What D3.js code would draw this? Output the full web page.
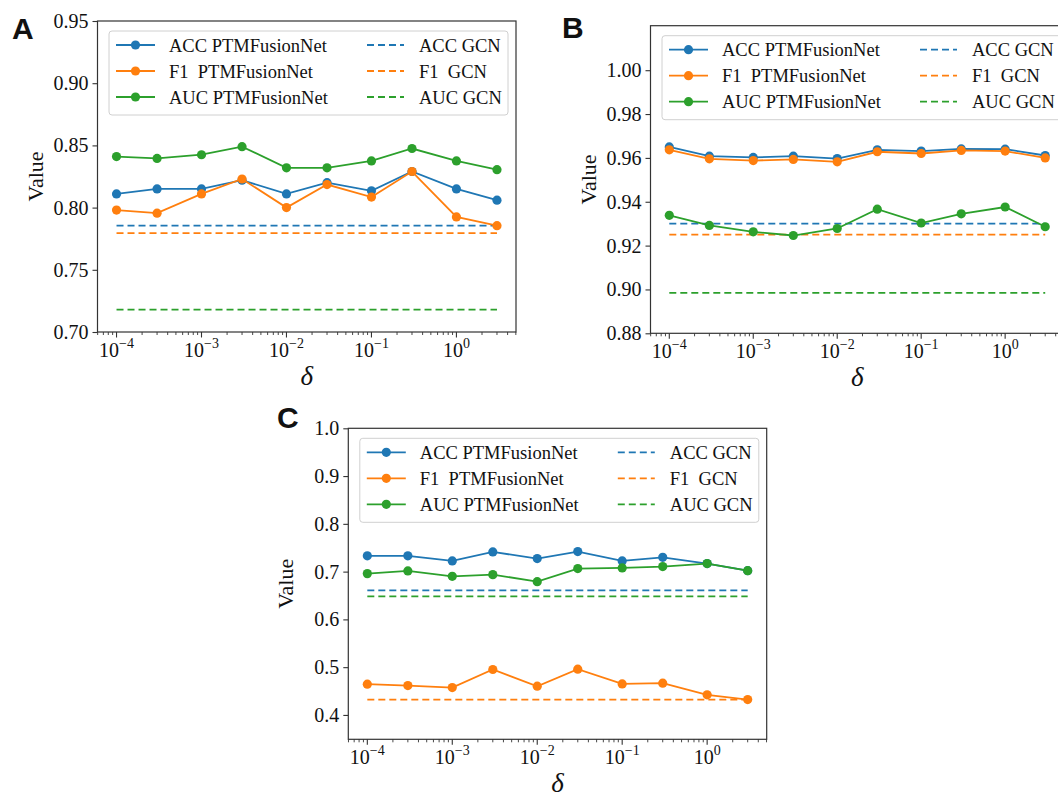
<!DOCTYPE html>
<html>
<head>
<meta charset="utf-8">
<script src="https://cdn.jsdelivr.net/npm/d3@7"></script>
<style>
  html, body { margin: 0; padding: 0; background: #fff; }
  svg { display: block; }
  text { font-family: "Liberation Serif", "DejaVu Serif", serif; fill: #111; }
  .letra { font-family: "Liberation Sans", Arial, sans-serif; font-weight: bold; }
</style>
</head>
<body>
<div id="grafico"></div>
<script>
// valores de delta (eje x, log)
const deltas = [1e-4, 3e-4, 1e-3, 3e-3, 1e-2, 3e-2, 1e-1, 3e-1, 1, 3];
const metricas = ['ACC', 'F1', 'AUC'];
const colores = ['#1f77b4', '#ff7f0e', '#2ca02c'];
const decadas = [1e-4, 1e-3, 1e-2, 1e-1, 1];
const exponentes = ['\u22124', '\u22123', '\u22122', '\u22121', '0'];

// panel A
const accA = [0.811, 0.815, 0.815, 0.822, 0.811, 0.820, 0.8135, 0.829, 0.815, 0.806];
const f1A = [0.798, 0.7955, 0.811, 0.823, 0.800, 0.8185, 0.8085, 0.829, 0.7925, 0.7855];
const aucA = [0.841, 0.8395, 0.8425, 0.849, 0.832, 0.832, 0.8375, 0.8475, 0.8375, 0.8305];
const gcnA = [0.7855, 0.7795, 0.718];
const ticksA = [0.70, 0.75, 0.80, 0.85, 0.90, 0.95];

// panel B
const accB = [0.965, 0.9608, 0.9602, 0.9608, 0.9597, 0.9637, 0.9631, 0.9641, 0.964, 0.9611];
const f1B = [0.9637, 0.9596, 0.9588, 0.9593, 0.9582, 0.9628, 0.962, 0.9634, 0.9631, 0.960];
const aucB = [0.9338, 0.9292, 0.9263, 0.9246, 0.9278, 0.9366, 0.9303, 0.9345, 0.9376, 0.9286];
const gcnB = [0.930, 0.925, 0.8984];
const ticksB = [0.88, 0.90, 0.92, 0.94, 0.96, 0.98, 1.00];

// panel C
const accC = [0.733, 0.733, 0.7224, 0.7413, 0.7273, 0.742, 0.7224, 0.730, 0.7168, 0.702];
const f1C = [0.4643, 0.4615, 0.4573, 0.4951, 0.4601, 0.4958, 0.465, 0.4664, 0.442, 0.4322];
const aucC = [0.6958, 0.7014, 0.6902, 0.6937, 0.679, 0.7063, 0.7077, 0.7105, 0.7168, 0.702];
const gcnC = [0.6608, 0.4322, 0.6483];
const ticksC = [0.4, 0.5, 0.6, 0.7, 0.8, 0.9, 1.0];

const svg = d3.select('#grafico')
  .append('svg')
  .attr('width', 1058)
  .attr('height', 798);

const paneles = [
  { letra: 'A', series: [accA, f1A, aucA], gcn: gcnA, ticks: ticksA, fmt: '.2f', dominio: [0.70, 0.95],
    x0: 97.5, x1: 516, y0: 21, y1: 332, lx: 12, ly: 39 },
  { letra: 'B', series: [accB, f1B, aucB], gcn: gcnB, ticks: ticksB, fmt: '.2f', dominio: [0.88, 1.0203],
    x0: 650.5, x1: 1064, y0: 25.7, y1: 333.3, lx: 562, ly: 38 },
  { letra: 'C', series: [accC, f1C, aucC], gcn: gcnC, ticks: ticksC, fmt: '.1f', dominio: [0.349, 1.0],
    x0: 348.3, x1: 766.7, y0: 428.3, y1: 739.3, lx: 277, ly: 428 }
];

paneles.forEach(dibujarPanel);

function dibujarPanel(p) {
  const g = svg.append('g');
  const margen = Math.log10(3 / 1e-4) * 0.05;
  const x = d3.scaleLog()
    .domain([1e-4 / Math.pow(10, margen), 3 * Math.pow(10, margen)])
    .range([p.x0, p.x1]);
  const y = d3.scaleLinear().domain(p.dominio).range([p.y1, p.y0]);

  // lineas GCN (discontinuas)
  p.gcn.forEach((v, i) => {
    g.append('line')
      .attr('x1', x(deltas[0])).attr('x2', x(deltas[deltas.length - 1]))
      .attr('y1', y(v)).attr('y2', y(v))
      .attr('stroke', colores[i])
      .attr('stroke-width', 1.8)
      .attr('stroke-dasharray', '7,4');
  });

  // lineas PTMFusionNet
  const linea = d3.line().x((d, i) => x(deltas[i])).y(d => y(d));
  p.series.forEach((s, i) => {
    g.append('path')
      .attr('d', linea(s))
      .attr('fill', 'none')
      .attr('stroke', colores[i])
      .attr('stroke-width', 1.8);
    g.append('g')
      .selectAll('circle')
      .data(s)
      .join('circle')
      .attr('cx', (d, j) => x(deltas[j]))
      .attr('cy', d => y(d))
      .attr('r', 4.6)
      .attr('fill', colores[i]);
  });

  // marco
  g.append('rect')
    .attr('x', p.x0).attr('y', p.y0)
    .attr('width', p.x1 - p.x0).attr('height', p.y1 - p.y0)
    .attr('fill', 'none')
    .attr('stroke', '#333')
    .attr('stroke-width', 1.2);

  // eje y
  const ejeY = g.append('g')
    .attr('transform', `translate(${p.x0},0)`)
    .call(d3.axisLeft(y).tickValues(p.ticks).tickFormat(d3.format(p.fmt)).tickSize(5).tickPadding(4));
  ejeY.select('.domain').remove();
  ejeY.selectAll('line').attr('stroke', '#333').attr('stroke-width', 1.1);
  ejeY.selectAll('text')
    .attr('font-family', '"Liberation Serif", serif')
    .attr('font-size', 20)
    .attr('fill', '#111');

  // eje x: menores
  const menores = [];
  for (let e = -5; e <= 0; e++) {
    for (let m = 2; m <= 9; m++) {
      const v = m * Math.pow(10, e);
      if (v >= x.domain()[0] && v <= x.domain()[1]) menores.push(v);
    }
  }
  g.append('g')
    .selectAll('line')
    .data(menores)
    .join('line')
    .attr('x1', d => x(d)).attr('x2', d => x(d))
    .attr('y1', p.y1).attr('y2', p.y1 + 3)
    .attr('stroke', '#333').attr('stroke-width', 0.9);

  const mayores = g.append('g')
    .selectAll('g')
    .data(decadas)
    .join('g')
    .attr('transform', d => `translate(${x(d)},${p.y1})`);
  mayores.append('line')
    .attr('y2', 5.5)
    .attr('stroke', '#333').attr('stroke-width', 1.1);
  const etiqueta = mayores.append('text')
    .attr('y', 25)
    .attr('text-anchor', 'middle')
    .attr('font-size', 20);
  etiqueta.append('tspan').text('10');
  etiqueta.append('tspan')
    .attr('dy', -9)
    .attr('font-size', 14)
    .text((d, i) => exponentes[i]);

  // titulos de ejes
  g.append('text')
    .attr('x', (p.x0 + p.x1) / 2)
    .attr('y', p.y1 + 53)
    .attr('text-anchor', 'middle')
    .attr('font-size', 27)
    .attr('font-style', 'italic')
    .text('\u03b4');

  g.append('text')
    .attr('transform', `translate(${p.x0 - 55},${(p.y0 + p.y1) / 2}) rotate(-90)`)
    .attr('text-anchor', 'middle')
    .attr('font-size', 22)
    .text('Value');

  // letra del panel
  g.append('text')
    .attr('class', 'letra')
    .attr('x', p.lx).attr('y', p.ly)
    .attr('font-size', 30)
    .text(p.letra);

  // leyenda
  const ley = g.append('g').attr('transform', `translate(${p.x0 + 11.5},${p.y0 + 10})`);
  ley.append('rect')
    .attr('width', 399).attr('height', 84)
    .attr('rx', 3)
    .attr('fill', 'white').attr('fill-opacity', 0.8)
    .attr('stroke', '#d0d0d0').attr('stroke-width', 1);

  metricas.forEach((m, i) => {
    const fila = 14 + i * 26;
    ley.append('line')
      .attr('x1', 7).attr('x2', 46)
      .attr('y1', fila).attr('y2', fila)
      .attr('stroke', colores[i]).attr('stroke-width', 1.8);
    ley.append('circle')
      .attr('cx', 26.5).attr('cy', fila).attr('r', 4.6)
      .attr('fill', colores[i]);
    ley.append('text')
      .attr('x', 60).attr('y', fila + 6.5)
      .attr('font-size', 18.5)
      .style('white-space', 'pre')
      .text(m === 'F1' ? 'F1  PTMFusionNet' : m + ' PTMFusionNet');

    ley.append('line')
      .attr('x1', 258).attr('x2', 295)
      .attr('y1', fila).attr('y2', fila)
      .attr('stroke', colores[i]).attr('stroke-width', 1.8)
      .attr('stroke-dasharray', '7,4');
    ley.append('text')
      .attr('x', 310).attr('y', fila + 6.5)
      .attr('font-size', 18.5)
      .style('white-space', 'pre')
      .text(m === 'F1' ? 'F1  GCN' : m + ' GCN');
  });
}
</script>
</body>
</html>
